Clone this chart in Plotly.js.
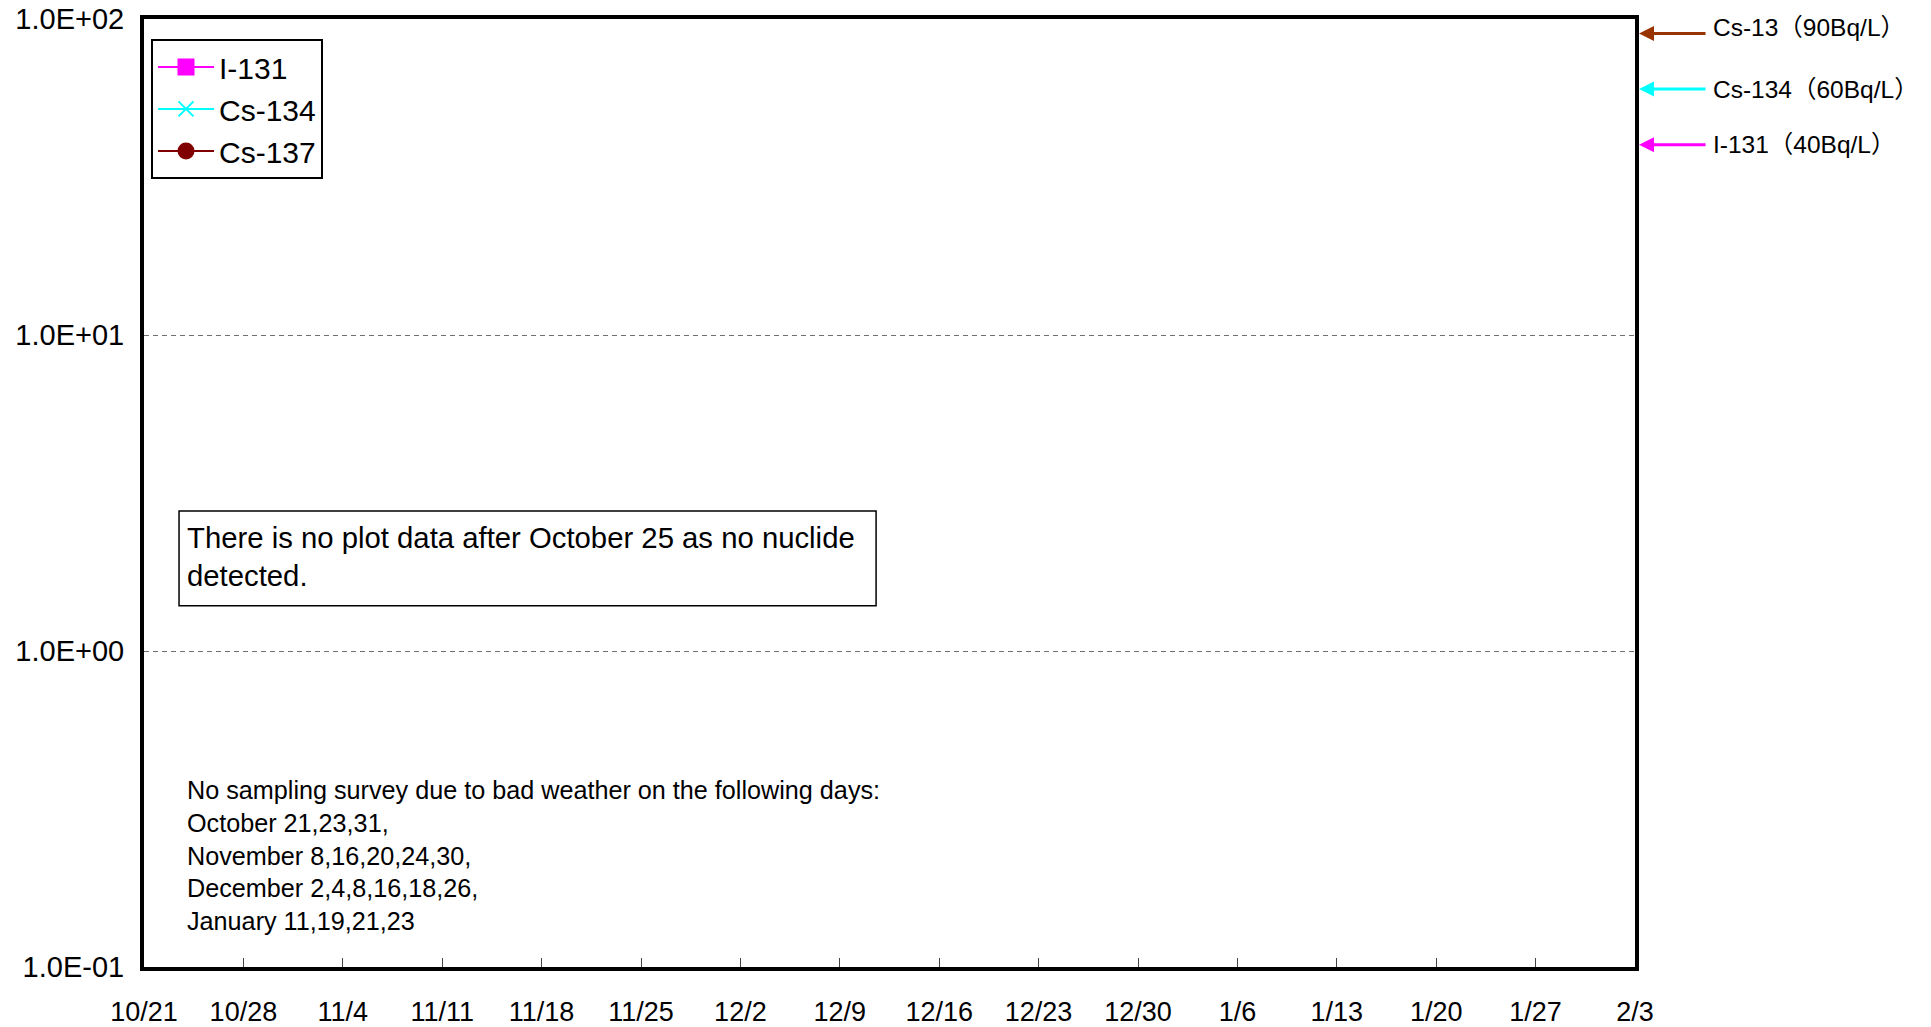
<!DOCTYPE html>
<html>
<head>
<meta charset="utf-8">
<script src="https://cdn.plot.ly/plotly-3.0.1.min.js"></script>
<style>
html,body{margin:0;padding:0;background:#fff;}
#chart{width:1931px;height:1027px;}
</style>
</head>
<body>
<div id="chart"></div>
<script>
// ---- data ----
const seriesNames = ['I-131', 'Cs-134', 'Cs-137'];
// no nuclide detected in the plotted period: every value is empty (not detected)
const sampleDates = ['2011-10-21'];
const i131Values = [null];
const cs134Values = [null];
const cs137Values = [null];

const tickDates = ['2011-10-21','2011-10-28','2011-11-04','2011-11-11','2011-11-18','2011-11-25',
  '2011-12-02','2011-12-09','2011-12-16','2011-12-23','2011-12-30','2012-01-06','2012-01-13',
  '2012-01-20','2012-01-27','2012-02-03'];
const tickLabels = ['10/21','10/28','11/4','11/11','11/18','11/25','12/2','12/9','12/16','12/23',
  '12/30','1/6','1/13','1/20','1/27','2/3'];

const yTickValues = [0.1, 1, 10, 100];
const yTickLabels = ['1.0E-01', '1.0E+00', '1.0E+01', '1.0E+02'];

const limitLabels = ['Cs-13（90Bq/L）', 'Cs-134（60Bq/L）', 'I-131（40Bq/L）'];
const limitValues = [90, 60, 40];

const noteText = 'There is no plot data after October 25 as no nuclide<br>detected.';
const weatherText = 'No sampling survey due to bad weather on the following days:<br>' +
  'October 21,23,31,<br>November 8,16,20,24,30,<br>December 2,4,8,16,18,26,<br>January 11,19,21,23';

// ---- styles ----
const FONT = 'Liberation Sans, Arial, Noto Sans CJK JP, sans-serif';
const seriesStyles = [
  {color: '#ff00ff', symbol: 'square', size: 15},
  {color: '#00ffff', symbol: 'x-thin', size: 15},
  {color: '#800000', symbol: 'circle', size: 15}
];
const limitColors = ['#993300', '#00ffff', '#ff00ff'];
const seriesValues = [i131Values, cs134Values, cs137Values];

const traces = seriesNames.map((name, i) => ({
  type: 'scatter',
  mode: 'lines+markers',
  name: name,
  x: sampleDates,
  y: seriesValues[i],
  line: {color: seriesStyles[i].color, width: 2},
  marker: {color: seriesStyles[i].color, symbol: seriesStyles[i].symbol, size: seriesStyles[i].size,
           line: {color: seriesStyles[i].color, width: 2}}
}));

const annotations = [];
limitValues.forEach((v, i) => {
  annotations.push({
    xref: 'paper', yref: 'y', x: 1.0027, y: Math.log10(v),
    axref: 'pixel', ayref: 'pixel', ax: 68, ay: 0,
    showarrow: true, arrowhead: 2, arrowsize: 1, arrowwidth: 3, arrowcolor: limitColors[i],
    text: '', standoff: 0
  });
  annotations.push({
    xref: 'paper', yref: 'y', x: 1.051, y: Math.log10(v),
    xanchor: 'left', yanchor: 'middle', showarrow: false, yshift: i === 0 ? 6 : 0,
    text: limitLabels[i], font: {family: FONT, size: 24.5, color: '#000'}
  });
});
annotations.push({
  xref: 'paper', yref: 'paper', x: 0.0275, y: 0.4325, xanchor: 'left', yanchor: 'middle',
  align: 'left', showarrow: false, text: noteText, font: {family: FONT, size: 29.3, color: '#000'}
});
annotations.push({
  xref: 'paper', yref: 'paper', x: 0.0275, y: 0.118, xanchor: 'left', yanchor: 'middle',
  align: 'left', showarrow: false, text: weatherText, font: {family: FONT, size: 25.2, color: '#000'}
});

const layout = {
  width: 1931, height: 1027,
  paper_bgcolor: '#fff', plot_bgcolor: '#fff',
  margin: {l: 144, r: 296, t: 19, b: 60, pad: 0},
  font: {family: FONT, size: 27, color: '#000'},
  showlegend: true,
  legend: {
    x: 0.0047, y: 0.979, xanchor: 'left', yanchor: 'top',
    bgcolor: '#fff', bordercolor: '#000', borderwidth: 2,
    font: {family: FONT, size: 30, color: '#000'},
    itemwidth: 56
  },
  xaxis: {
    type: 'date',
    range: [tickDates[0], tickDates[tickDates.length - 1]],
    tickvals: tickDates, ticktext: tickLabels,
    ticks: 'inside', ticklen: 9, tickwidth: 1, tickcolor: '#444',
    ticklabelstandoff: 18,
    showgrid: false, zeroline: false,
    showline: true, linecolor: '#000', linewidth: 4, mirror: true,
    tickfont: {family: FONT, size: 27, color: '#000'}
  },
  yaxis: {
    type: 'log',
    range: [-1, 2],
    tickvals: yTickValues, ticktext: yTickLabels,
    ticks: '', ticklabelstandoff: 10,
    showgrid: true, gridcolor: '#707070', gridwidth: 1, griddash: '5px,4px',
    zeroline: false,
    showline: true, linecolor: '#000', linewidth: 4, mirror: true,
    tickfont: {family: FONT, size: 29, color: '#000'}
  },
  shapes: [{
    type: 'rect', xref: 'paper', yref: 'paper',
    x0: 0.0235, x1: 0.491, y0: 0.381, y1: 0.481,
    line: {color: '#000', width: 1.5}, fillcolor: 'rgba(0,0,0,0)'
  }],
  annotations: annotations
};

Plotly.newPlot('chart', traces, layout, {displayModeBar: false, staticPlot: true});
</script>
</body>
</html>
